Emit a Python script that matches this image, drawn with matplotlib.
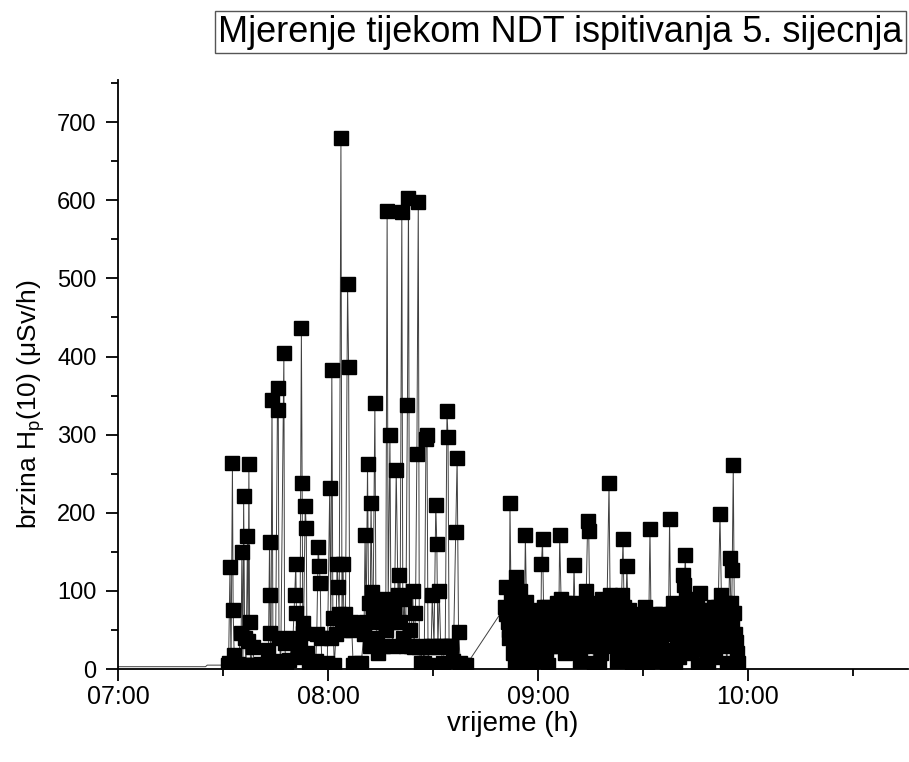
import matplotlib
matplotlib.use("Agg")
import matplotlib.pyplot as plt
from matplotlib.ticker import MultipleLocator, FixedLocator

plt.rcParams["font.family"] = ["Liberation Sans", "DejaVu Sans"]

# --- Data: minutes after 07:00 and dose rate (uSv/h) ---
lead_t = [0.0, 25.0, 25.5, 31.0]
lead_v = [3, 3, 5, 5]

t1 = [31.4, 31.6, 32.0, 32.3, 32.7, 32.9, 33.2, 33.5, 34.2, 35.2, 35.4, 35.7,
      35.9, 36.2, 36.6, 37.0, 37.2, 37.4, 37.6, 37.9, 38.5, 39.0, 40.0, 41.0]
v1 = [5, 8, 130, 5, 264, 75, 18, 4, 6, 46, 150, 5,
      221, 40, 5, 170, 36, 262, 60, 5, 28, 4, 5, 6]

t2 = [43.0, 43.3, 43.4, 43.5, 43.7, 44.0, 44.3, 45.0, 45.6, 45.8, 46.0, 46.5,
      47.4, 47.6, 48.0, 49.0, 50.0, 50.5, 50.8, 51.0, 51.3, 52.0, 52.4, 52.6,
      52.8, 53.0, 53.5, 53.8, 54.0, 54.5, 55.5]
v2 = [24, 163, 95, 46, 5, 344, 5, 8, 360, 331, 40, 10,
      404, 33, 8, 12, 40, 95, 134, 72, 15, 30, 436, 238,
      59, 46, 209, 180, 20, 5, 6]

t3 = [56.5, 56.8, 57.2, 57.5, 57.8, 58.0, 58.3, 59.0, 59.8, 60.5, 60.8, 61.1,
      61.4, 61.8, 62.3, 62.6, 62.9, 63.2, 63.7, 64.0, 64.3, 64.6, 65.0, 65.6,
      65.9, 66.2, 66.5, 66.8, 67.2, 67.8]
v3 = [10, 45, 156, 132, 110, 40, 5, 6, 8, 232, 40, 383,
      65, 5, 45, 135, 105, 70, 680, 60, 135, 50, 70, 493,
      386, 55, 60, 50, 5, 8]

t4 = [68.5, 69.5, 70.3, 70.6, 70.9, 71.3, 71.6, 72.0, 72.3, 72.6, 72.9, 73.4,
      73.7, 74.0, 74.4, 74.8, 75.2, 75.6, 76.0, 76.5, 76.9, 77.2, 77.7, 78.0,
      78.5, 79.0, 79.5, 80.0, 80.3, 80.6, 81.1, 81.4, 81.8, 82.2, 82.7, 83.0,
      83.3, 83.7, 84.2, 84.6, 85.0, 85.4, 85.8, 86.1, 86.5, 87.0, 87.5, 88.0,
      88.3, 88.6, 89.0]
v4 = [5, 8, 45, 172, 60, 262, 85, 30, 213, 98, 80, 341,
      75, 40, 20, 85, 60, 30, 90, 50, 586, 80, 300, 60,
      30, 75, 255, 95, 120, 60, 585, 40, 90, 30, 338, 603,
      50, 30, 100, 28, 72, 275, 598, 28, 8, 30, 8, 295,
      300, 5, 28]

t5 = [89.5, 89.8, 90.3, 90.8, 91.1, 91.4, 91.8, 92.2, 92.8, 93.5, 94.0, 94.3,
      94.6, 95.2, 95.8, 96.5, 96.9, 97.3, 97.8, 98.5, 99.5]
v5 = [30, 95, 30, 210, 160, 28, 100, 30, 8, 30, 330, 297,
      30, 30, 10, 175, 270, 48, 8, 5, 5]

t6 = [110.6, 111.0, 111.3, 111.6, 112.0, 112.3, 112.6, 113.0, 113.3, 113.7,
      114.0, 114.3, 114.6, 115.0, 115.3, 115.6, 116.0, 116.4, 116.7, 117.0,
      117.3, 117.7, 118.0, 118.5, 118.9, 119.3, 119.8, 120.2, 120.6, 121.0,
      121.3, 121.6, 122.0, 122.4, 122.8, 123.2, 123.6, 124.0, 124.4, 124.8,
      125.3, 125.7, 126.2, 126.6, 127.0, 127.4, 127.8, 128.2, 128.6, 129.0,
      129.4, 129.8, 130.3, 130.6, 131.0, 131.4, 132.0, 132.4, 132.8, 133.3,
      133.8, 134.2, 134.5, 134.8, 135.2, 135.6, 136.0, 136.5, 137.0, 137.5,
      138.0, 138.4, 138.8, 139.2, 139.7, 140.3, 140.6, 141.0, 141.4, 141.8,
      142.2, 142.6, 143.0, 143.5, 143.9, 144.3, 144.6, 145.0, 145.4, 145.8,
      146.2, 146.6, 147.0, 147.5, 148.0, 148.6, 149.1, 149.5, 149.9, 150.3,
      150.8, 151.2, 151.6, 152.0, 152.3, 152.7, 153.1, 153.6, 154.0, 154.5,
      155.0, 155.4, 155.8, 156.3, 156.8, 157.3, 157.6, 157.9, 158.3, 158.7,
      159.2, 159.7, 160.2, 160.7, 161.1, 161.5, 161.8, 162.1, 162.4, 162.8,
      163.2, 163.6, 164.0, 164.4, 164.9, 165.3, 165.8, 166.3, 166.7, 167.1,
      167.5, 168.0, 168.5, 169.0, 169.5, 170.0, 170.5, 171.0, 171.5, 172.0,
      172.4, 172.8, 173.2, 173.6, 174.0, 174.4, 174.8, 175.1, 175.5, 175.8,
      176.1, 176.4, 176.8, 177.2]
v6 = [80, 105, 60, 40, 213, 90, 55, 20, 8, 118,
      75, 50, 30, 100, 80, 45, 25, 171, 86, 60,
      40, 8, 5, 30, 55, 40, 20, 10, 60, 134,
      166, 80, 45, 25, 5, 50, 70, 40, 60, 30,
      85, 55, 171, 90, 65, 40, 20, 75, 50, 85,
      60, 35, 133, 70, 45, 25, 10, 55, 85, 40,
      100, 189, 177, 75, 50, 30, 8, 60, 40, 5,
      20, 90, 60, 35, 75, 238, 95, 50, 30, 70,
      45, 10, 25, 60, 95, 166, 80, 50, 132, 65,
      40, 20, 5, 30, 8, 15, 50, 70, 35, 60,
      25, 5, 40, 179, 65, 45, 20, 55, 30, 10,
      45, 70, 50, 25, 5, 60, 192, 70, 45, 20,
      8, 35, 15, 60, 80, 120, 108, 146, 90, 65,
      40, 20, 75, 55, 30, 85, 5, 97, 60, 40,
      75, 25, 5, 45, 65, 30, 15, 55, 80, 199,
      95, 70, 50, 30, 8, 60, 142, 85, 127, 261,
      72, 45, 20, 8]

# extra readings filling the dense 09:00-10:00 block
t7 = [110.8, 111.8, 112.8, 113.5, 114.8, 115.8, 116.9, 118.7, 119.5, 120.8,
      121.8, 122.6, 123.4, 124.2, 125.0, 125.9, 126.8, 127.6, 128.4, 129.2,
      130.0, 131.2, 132.6, 133.0, 135.0, 136.2, 137.2, 138.6, 139.4, 141.2,
      142.0, 143.2, 144.8, 146.0, 147.2, 148.3, 149.3, 150.5, 151.4, 153.3,
      154.2, 155.2, 156.0, 157.0, 158.5, 159.5, 160.4, 161.3, 163.0, 163.8,
      165.1, 166.0, 166.9, 168.2, 169.2, 170.2, 171.2, 172.6, 173.4, 174.2,
      175.3, 176.6]
v7 = [70, 50, 85, 40, 65, 30, 55, 75, 60, 35,
      50, 80, 30, 55, 70, 40, 60, 85, 35, 65,
      50, 75, 30, 65, 85, 45, 70, 40, 55, 80,
      35, 50, 65, 75, 45, 60, 30, 80, 55, 70,
      45, 35, 65, 50, 85, 55, 40, 70, 50, 35,
      60, 75, 45, 55, 35, 80, 40, 60, 85, 40,
      55, 35]

x_ticks = [0, 60, 120, 180]
x_tick_labels = ["07:00", "08:00", "09:00", "10:00"]

series = sorted(zip(t1 + t2 + t3 + t4 + t5 + t6 + t7,
                    v1 + v2 + v3 + v4 + v5 + v6 + v7))
times = lead_t + [t for t, _ in series]
values = lead_v + [v for _, v in series]

fig = plt.figure(figsize=(9.09, 7.62), dpi=100)
ax = fig.add_axes([0.1298, 0.122, 0.869, 0.773])

ax.plot(times, values, color="#404040", linewidth=0.7, marker="s",
        markersize=9.5, markerfacecolor="black", markeredgecolor="black",
        markevery=slice(len(lead_t), None))

ax.set_xlim(0, 225.7)
ax.set_ylim(0, 754)
ax.xaxis.set_major_locator(FixedLocator(x_ticks))
ax.set_xticklabels(x_tick_labels)
ax.xaxis.set_minor_locator(MultipleLocator(30))
ax.yaxis.set_major_locator(MultipleLocator(100))
ax.yaxis.set_minor_locator(MultipleLocator(50))

for side in ("top", "right"):
    ax.spines[side].set_visible(False)
for side in ("left", "bottom"):
    ax.spines[side].set_linewidth(1.3)
ax.tick_params(which="major", direction="out", length=8.5, width=1.3)
ax.tick_params(which="minor", direction="out", length=5, width=1.3)
ax.tick_params(axis="x", labelsize=18, pad=3)
ax.tick_params(axis="y", labelsize=17, pad=7)

ax.set_xlabel("vrijeme (h)", fontsize=20)
ax.xaxis.set_label_coords(0.5, -0.072)
ax.set_ylabel(r"brzina H$_\mathregular{p}$(10) ($\mathregular{\mu}$Sv/h)",
              fontsize=19)
ax.yaxis.set_label_coords(-0.09, 0.45)

fig.text(0.993, 0.958, "Mjerenje tijekom NDT ispitivanja 5. sijecnja",
         ha="right", va="center", fontsize=26,
         bbox=dict(boxstyle="square,pad=0.1", facecolor="white",
                   edgecolor="#555555", linewidth=1))

fig.savefig("out.png", dpi=100)
